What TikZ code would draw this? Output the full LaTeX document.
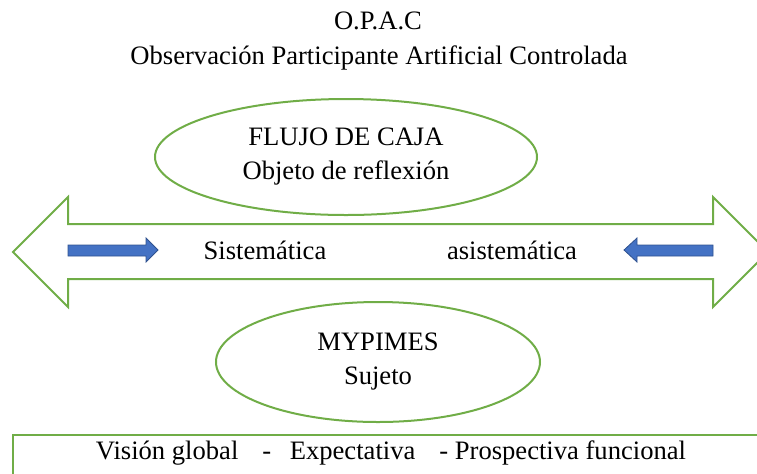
\documentclass[tikz,border=0pt]{standalone}
\usepackage{fontspec}
\setmainfont{Liberation Serif}
\usepackage{tikz}
\usetikzlibrary{shapes.geometric}
\definecolor{leafgreen}{HTML}{70AD47}
\definecolor{bluefill}{HTML}{4472C4}
\definecolor{blueline}{HTML}{2F528F}
\tikzset{
  oval/.style={draw=leafgreen,line width=1pt,ellipse,align=center,
    font=\fontsize{13.3}{17}\selectfont},
  txt/.style={font=\fontsize{13.3}{15}\selectfont},
  bluearrow/.style={fill=bluefill,draw=blueline,line width=0.4pt},
}

\begin{document}
\begin{tikzpicture}[x=0.5pt,y=-0.5pt]
  \clip (0,0) rectangle (757,473);

  % Title
  \node[txt] (acronym) at (378,21) {O.P.A.C};
  \node[txt] (title) at (379,58) {Observación Participante Artificial Controlada};

  % Object of reflection
  \node[oval,minimum width=191pt,minimum height=58pt,inner sep=0pt] (object) at (346,157)
    {FLUJO DE CAJA\\Objeto de reflexión};

  % Double-headed band
  \draw[leafgreen,line width=1pt] (13,252) -- (68,197) -- (68,224) -- (713,224)
    -- (713,197) -- (768,252) -- (713,307) -- (713,279) -- (68,279)
    -- (68,307) -- cycle;

  % Inner arrows
  \draw[bluearrow] (68,245) -- (146,245) -- (146,238) -- (158,250)
    -- (146,262) -- (146,256) -- (68,256) -- cycle;
  \draw[bluearrow] (713,245) -- (637,245) -- (637,238) -- (624,250)
    -- (637,262) -- (637,256) -- (713,256) -- cycle;
  \node[txt] (sys) at (265,250) {Sistemática};
  \node[txt] (asys) at (512,250) {asistemática};

  % Subject
  \node[oval,minimum width=162pt,minimum height=60pt,inner sep=0pt] (subject) at (378,362)
    {MYPIMES\\Sujeto};

  % Bottom panel
  \draw[leafgreen,line width=0.8pt] (13,435) rectangle (800,520);
  \node[txt] (scope) at (391,453)
    {Visión global\hspace{0.9em}-\hspace{0.7em}Expectativa\hspace{0.9em}- Prospectiva funcional};
\end{tikzpicture}
\end{document}
